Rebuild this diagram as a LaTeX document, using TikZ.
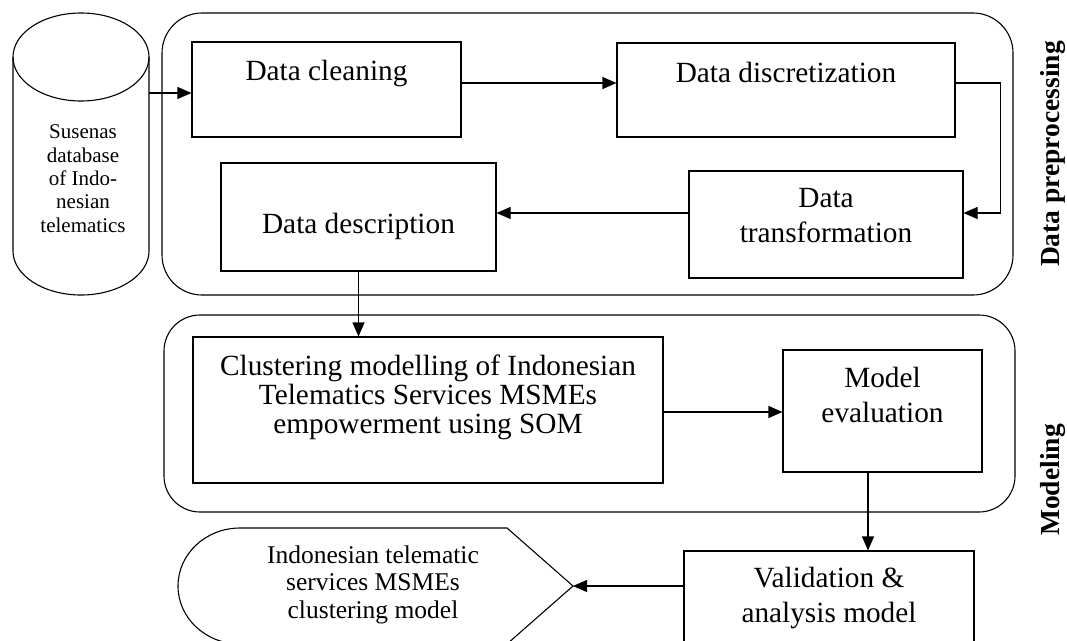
\documentclass[tikz,border=0pt]{standalone}
\usepackage{fontspec}
\setmainfont{Liberation Serif}
\usetikzlibrary{arrows.meta}
\begin{document}
\begin{tikzpicture}[x=1pt,y=-1pt,
  line width=1.1pt,
  box/.style={draw, rectangle, inner sep=0pt},
  group/.style={draw, rectangle, rounded corners=40pt, inner sep=0pt},
  txt/.style={font=\fontsize{29.3pt}{34.5pt}\selectfont, align=center, anchor=base, inner sep=0pt},
  tighttxt/.style={font=\fontsize{29.3pt}{29pt}\selectfont, align=center, anchor=base, inner sep=0pt},
  dbtxt/.style={font=\fontsize{21pt}{23.3pt}\selectfont, align=center, anchor=base, inner sep=0pt},
  outtxt/.style={font=\fontsize{25.5pt}{27.5pt}\selectfont, align=center, anchor=base, inner sep=0pt},
  lab/.style={font=\bfseries\fontsize{27.5pt}{30pt}\selectfont, rotate=90, anchor=base, inner sep=0pt},
  arr/.style={-{Triangle[length=14pt,width=12pt]}}]
\useasboundingbox (0,0) rectangle (1067,640);

% groups
\node[group, minimum width=851pt, minimum height=282pt] (pre) at (587.5,154) {};
\node[group, rounded corners=36pt, minimum width=851pt, minimum height=197pt] (mod) at (589.5,413.5) {};

% database cylinder
\draw (13,57) -- (13,251) arc[start angle=180, end angle=360, x radius=68pt, y radius=44pt] -- (149,57);
\draw (81,57) ellipse [x radius=68pt, y radius=44pt];
\node[dbtxt] (db) at (83,232) {Susenas\\database\\of Indo-\\nesian\\telematics};
\coordinate (dbr) at (149,93);

% process boxes
\node[box, minimum width=269pt, minimum height=95pt] (clean) at (326.5,89.5) {};
\node[box, minimum width=338pt, minimum height=94pt] (disc) at (786,90) {};
\node[box, minimum width=274pt, minimum height=107pt] (trans) at (826,224.5) {};
\node[box, minimum width=275pt, minimum height=108pt] (desc) at (358.5,217) {};
\node[box, minimum width=470pt, minimum height=146pt] (clus) at (428,410) {};
\node[box, minimum width=199pt, minimum height=122pt] (eval) at (882.5,411) {};
\node[box, minimum width=290pt, minimum height=104pt] (val) at (829,603) {};

\node[txt] (clean-t) at (326.5,80) {Data cleaning};
\node[txt] (disc-t) at (786,82) {Data discretization};
\node[txt] (trans-t) at (826,242) {Data\\transformation};
\node[txt] (desc-t) at (358.5,233) {Data description};
\node[tighttxt] (clus-t) at (428,433) {Clustering modelling of Indonesian\\Telematics Services MSMEs\\empowerment using SOM};
\node[txt] (eval-t) at (882.5,422) {Model\\evaluation};
\node[txt] (val-t) at (829,622) {Validation \&\\analysis model};

% output (display shape)
\draw (240,528) -- (507,528) -- (573,586) -- (507,644) -- (240,644)
  arc[start angle=270, end angle=90, x radius=62pt, y radius=58pt] -- cycle;
\coordinate (outtip) at (573,586);
\node[outtxt] (out-t) at (373,618) {Indonesian telematic\\services MSMEs\\clustering model};

% side labels
\node[lab] (lpre) at (1059,154) {Data preprocessing};
\node[lab] (lmod) at (1059,480) {Modeling};

% connectors
\draw[arr] (dbr) -- (dbr -| clean.west);
\draw[arr] ([yshift=6.5pt]clean.east) -- ([yshift=6.5pt]clean.east -| disc.west);
\draw[arr] ([yshift=7pt]disc.east) -- ++(45,0) |- ([yshift=11.5pt]trans.east);
\draw[arr] ([yshift=11.5pt]trans.west) -- ([yshift=11.5pt]trans.west -| desc.east);
\draw[arr] (desc.south) -- (desc.south |- clus.north);
\draw[arr] ([yshift=-2pt]clus.east) -- ([yshift=-2pt]clus.east -| eval.west);
\draw[arr] ([xshift=-14.5pt]eval.south) -- ([xshift=-14.5pt]eval.south |- val.north);
\draw[arr] (val.west |- outtip) -- (outtip);
\end{tikzpicture}
\end{document}
